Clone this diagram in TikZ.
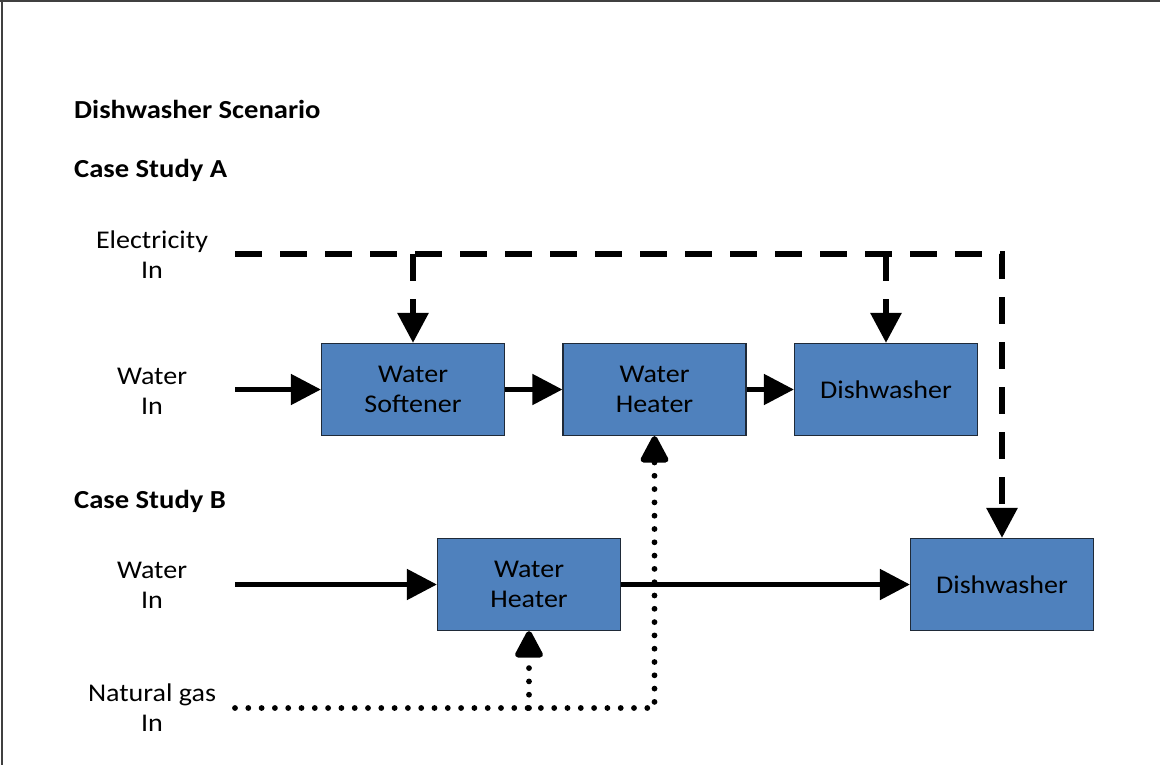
\documentclass[tikz,border=0pt]{standalone}
\usepackage{fontspec}
\setmainfont[FakeStretch=1.1]{Carlito}
\usetikzlibrary{arrows.meta}
\definecolor{boxblue}{HTML}{4F81BD}
\definecolor{boxedge}{HTML}{1F2A38}
\definecolor{frame}{HTML}{404040}
\begin{document}
\begin{tikzpicture}[x=1pt,y=-1pt,
  proc/.style={draw=boxedge, line width=1.2pt, fill=boxblue, minimum width=183pt,
    minimum height=92pt, inner sep=0pt, align=center, font=\fontsize{25.5}{30}\selectfont},
  lbl/.style={align=center, inner sep=0pt, font=\fontsize{25.5}{30}\selectfont},
  ttl/.style={anchor=base west, inner sep=0pt, font=\bfseries\fontsize{26}{30}\selectfont},
  tip/.style={-{Triangle[length=30pt,width=30pt]}},
  flow/.style={line width=5pt, tip},
  elec/.style={line width=6pt, dash pattern=on 27pt off 18pt, tip},
  gas/.style={line width=5.8pt, line cap=round, dash pattern=on 0pt off 13.3pt,
    -{Triangle[length=30pt,width=30pt,round=false]}},
]
\useasboundingbox (0,0) rectangle (1160,765);
\fill[white] (0,0) rectangle (1160,765);
\draw[frame, line width=1.5pt] (0,1) -- (1160,1);
\draw[frame, line width=1.5pt] (2,0) -- (2,765);

% titles
\node[ttl] (t0) at (74,119) {Dishwasher Scenario};
\node[ttl] (t1) at (74,178) {Case Study A};
\node[ttl] (t2) at (74,508) {Case Study B};

% boxes
\node[proc] (soft)  at (413,389.5)  {Water\\Softener};
\node[proc] (heatA) at (654.5,389.5) {Water\\Heater};
\node[proc] (dishA) at (886,389.5)  {Dishwasher};
\node[proc] (heatB) at (529,584.5)  {Water\\Heater};
\node[proc] (dishB) at (1002,584.5) {Dishwasher};

% input labels
\node[lbl] (elecl)  at (152,255) {Electricity\\In};
\node[lbl] (waterA) at (152,391) {Water\\In};
\node[lbl] (waterB) at (152,585) {Water\\In};
\node[lbl] (gasl)   at (152,708) {Natural gas\\In};

% free ends
\coordinate (eS) at (235,254);
\coordinate (eC) at (1002,254);
\coordinate (wA) at (235,389.5);
\coordinate (wB) at (235,584.5);
\coordinate (gS) at (235,708);
\coordinate (gC) at (654.5,708);

% water flows
\draw[flow] (wA) -- (soft.west);
\draw[flow] (soft.east) -- (heatA.west);
\draw[flow] (heatA.east) -- (dishA.west);
\draw[flow] (wB) -- (heatB.west);
\draw[flow] (heatB.east) -- (dishB.west);

% electricity
\draw[elec] (eS) -- (eC) -- (dishB.north);
\draw[elec] (soft.north |- eS) -- (soft.north);
\draw[elec] (dishA.north |- eS) -- (dishA.north);

% natural gas
\draw[gas] (gS) -- (gC) -- (heatA.south);
\draw[gas] (heatB.south |- gS) -- (heatB.south);
\end{tikzpicture}
\end{document}
